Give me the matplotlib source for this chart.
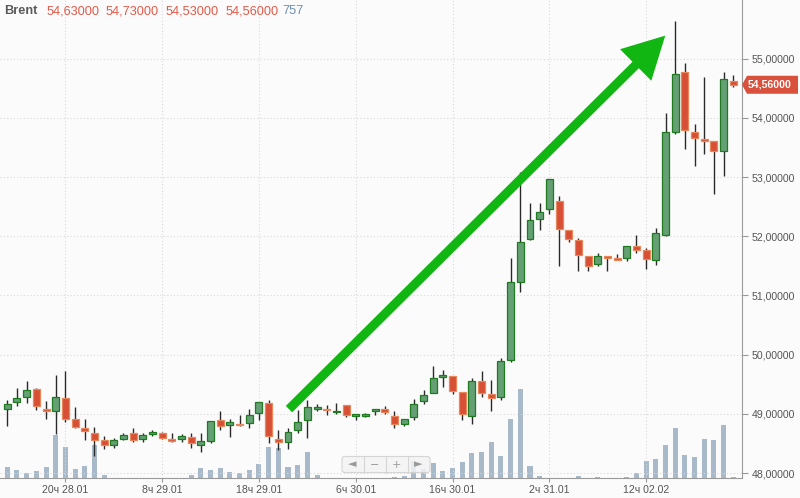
import numpy as np
import matplotlib
matplotlib.use("Agg")
import matplotlib.pyplot as plt
from matplotlib.ticker import MultipleLocator, FixedLocator, FuncFormatter
from matplotlib.patches import Polygon, FancyBboxPatch

plt.rcParams['font.family'] = ['Liberation Sans', 'DejaVu Sans']

# hourly Brent candles (open, high, low, close) and volume
opens = [49.09, 49.20, 49.28, 49.42, 49.09, 49.04, 49.26, 48.92, 48.76, 48.68,
         48.56, 48.47, 48.57, 48.68, 48.57, 48.66, 48.68, 48.57, 48.58, 48.61,
         48.48, 48.54, 48.90, 48.81, 48.83, 48.84, 49.01, 49.18, 48.58, 48.52,
         48.72, 48.89, 49.09, 49.08, 49.03, 49.15, 48.96, 48.96, 49.04, 49.08,
         48.96, 48.82, 48.95, 49.21, 49.36, 49.62, 49.64, 49.37, 48.97, 49.56,
         49.34, 49.28, 49.91, 51.23, 51.95, 52.30, 52.46, 52.60, 52.11, 51.94,
         51.66, 51.53, 51.66, 51.63, 51.63, 51.84, 51.76, 51.60, 52.02, 53.77,
         54.77, 53.76, 53.64, 53.61, 53.44, 54.63]
highs = [49.23, 49.43, 49.56, 49.44, 49.22, 49.65, 49.72, 49.11, 48.91, 48.77,
         48.63, 48.59, 48.67, 48.76, 48.67, 48.72, 48.69, 48.67, 48.66, 48.67,
         48.67, 48.88, 49.04, 48.91, 48.98, 49.08, 49.20, 49.23, 48.72, 48.76,
         49.07, 49.23, 49.17, 49.15, 49.18, 49.15, 48.99, 49.02, 49.09, 49.13,
         49.04, 48.92, 49.25, 49.41, 49.80, 49.74, 49.64, 49.37, 49.60, 49.72,
         49.57, 49.94, 51.63, 53.08, 52.57, 52.56, 52.96, 52.68, 52.11, 51.97,
         51.66, 51.71, 51.66, 51.70, 51.84, 52.02, 51.80, 52.14, 54.09, 55.63,
         54.93, 53.89, 54.69, 53.61, 54.78, 54.73]
lows = [48.80, 49.14, 49.19, 49.07, 48.92, 48.66, 48.86, 48.76, 48.56, 48.29,
        48.40, 48.42, 48.55, 48.53, 48.53, 48.63, 48.58, 48.53, 48.53, 48.42,
        48.36, 48.50, 48.72, 48.61, 48.80, 48.76, 48.89, 48.50, 48.39, 48.40,
        48.68, 48.60, 49.05, 48.98, 48.99, 48.94, 48.89, 48.94, 48.98, 49.00,
        48.76, 48.80, 48.89, 49.16, 49.35, 49.46, 49.33, 48.89, 48.83, 49.29,
        49.05, 49.23, 49.88, 51.06, 51.94, 52.11, 52.37, 51.50, 51.91, 51.41,
        51.41, 51.49, 51.41, 51.60, 51.59, 51.71, 51.45, 51.52, 52.00, 53.72,
        53.47, 53.18, 53.39, 52.71, 53.02, 54.53]
closes = [49.16, 49.26, 49.41, 49.14, 49.04, 49.28, 48.91, 48.77, 48.71, 48.56,
          48.47, 48.55, 48.65, 48.56, 48.64, 48.69, 48.60, 48.54, 48.63, 48.50,
          48.54, 48.88, 48.80, 48.87, 48.81, 48.98, 49.20, 48.63, 48.52, 48.69,
          48.86, 49.11, 49.11, 49.06, 49.05, 48.98, 48.99, 48.99, 49.08, 49.03,
          48.82, 48.92, 49.17, 49.32, 49.60, 49.65, 49.38, 48.99, 49.56, 49.36,
          49.26, 49.90, 51.22, 51.91, 52.28, 52.41, 52.96, 52.13, 51.95, 51.68,
          51.50, 51.67, 51.63, 51.60, 51.83, 51.77, 51.62, 52.05, 53.77, 54.75,
          53.80, 53.66, 53.61, 53.44, 54.65, 54.56]
volumes = [8250, 6200, 3750, 5500, 8250, 32000, 23250, 7000, 9000, 24750,
           2500, 0, 0, 0, 0, 0, 0, 0, 0, 2500,
           7500, 6200, 7700, 4300, 4000, 6200, 10500, 23000, 22500, 8250,
           9750, 19500, 2500, 0, 0, 0, 0, 0, 0, 0,
           750, 1700, 12500, 6750, 11250, 5500, 7500, 12000, 18750, 19500,
           27000, 16500, 44500, 67000, 9000, 1700, 0, 0, 0, 1700,
           0, 750, 0, 0, 750, 3750, 13000, 14250, 24500, 37250,
           17000, 15750, 29250, 28250, 39500, 757]

tick_idx = [6, 16, 26, 36, 46, 56, 66]
tick_labels = ["20ч 28.01", "8ч 29.01", "18ч 29.01", "6ч 30.01",
               "16ч 30.01", "2ч 31.01", "12ч 02.02"]
header_values = ["54,63000", "54,73000", "54,53000", "54,56000"]
header_volume = "757"

W, H = 800, 498
fig = plt.figure(figsize=(W / 100, H / 100), dpi=100)
fig.patch.set_facecolor('#fbfbfb')

ax = fig.add_axes([0, 20 / H, 742 / W, 478 / H])
ax_v = ax.twinx()
ax.set_zorder(ax_v.get_zorder() + 1)
ax.patch.set_visible(False)
ax_v.patch.set_facecolor('#fbfbfb')

x = np.arange(len(opens))
o = np.array(opens)
c = np.array(closes)
up = c >= o

# volume bars behind the candles
ax_v.bar(x, volumes, width=0.52, color='#a8b9c9', linewidth=0)
ax_v.set_ylim(0, 478 * 750)
ax_v.set_yticks([])
for s in ax_v.spines.values():
	s.set_visible(False)

# candles
ax.vlines(x, lows, highs, color='#2a2a2a', linewidth=1, zorder=2)
body_bottom = np.minimum(o, c)
body_height = np.maximum(np.abs(c - o), 0.012)
ax.bar(x[up], body_height[up], bottom=body_bottom[up], width=0.72,
       color='#64a074', edgecolor='#1f7a22', linewidth=0.9, zorder=3)
ax.bar(x[~up], body_height[~up], bottom=body_bottom[~up], width=0.72,
       color='#d74f34', edgecolor='#e8865c', linewidth=0.9, zorder=3)

ax.set_xlim(-0.754, 75.9)
ax.set_ylim(47.916, 55.992)

ax.yaxis.set_major_locator(MultipleLocator(1))
ax.yaxis.set_major_formatter(FuncFormatter(lambda v, p: f"{v:.5f}".replace('.', ',')))
ax.xaxis.set_major_locator(FixedLocator(tick_idx))
ax.set_xticklabels(tick_labels)

ax.grid(True, which='major', axis='both', color='#d9d9d9', linestyle=(0, (1, 2)), linewidth=0.8)
ax.tick_params(axis='y', left=False, labelleft=False, right=True, labelright=True,
               length=4, color='#999999', labelcolor='#555555', labelsize=7.6, pad=3)
ax.tick_params(axis='x', length=3, color='#999999', labelcolor='#555555', labelsize=7.6, pad=2)
for side in ['left', 'top']:
	ax.spines[side].set_visible(False)
for side in ['right', 'bottom']:
	ax.spines[side].set_color('#9a9a9a')

# big green arrow
ax.annotate('', xy=(67.97, 55.39), xytext=(29.1, 49.08),
            arrowprops=dict(width=6.5, headwidth=32, headlength=30, shrink=0,
                            facecolor='#12b612', edgecolor='none'),
            zorder=5)

# header line
fig.text(4 / W, 1 - 11 / H, "Brent", fontsize=9.2, fontweight='bold', color='#5a5a5a', va='center')
for xp, txt in zip([46.7, 106, 166, 226], header_values):
	fig.text(xp / W, 1 - 11 / H, txt, fontsize=9.2, color='#e05a4a', va='center')
fig.text(282.7 / W, 1 - 11 / H, header_volume, fontsize=9.2, color='#6f8fb0', va='center')

# last price label
fig.canvas.draw()
yl = ax.transData.transform((0, closes[-1]))[1]
pts = [(742, yl), (747, yl + 9), (798, yl + 9), (798, yl - 9), (747, yl - 9)]
fig.add_artist(Polygon([(px / W, py / H) for px, py in pts], closed=True,
                       transform=fig.transFigure, facecolor='#d9503c', edgecolor='none', zorder=6))
fig.text(770 / W, yl / H, header_values[-1], color='white', fontweight='bold',
         fontsize=7.6, ha='center', va='center', zorder=7)

# navigation buttons
nav = FancyBboxPatch((342 / W, 25.5 / H), 88 / W, 16 / H,
                     boxstyle='round,pad=0,rounding_size=0.004', transform=fig.transFigure,
                     facecolor='#f3f3f3', edgecolor='#cfcfcf', linewidth=0.8, alpha=0.85, zorder=6)
fig.add_artist(nav)
for xd in [363.5, 385.5, 407.5]:
	fig.add_artist(plt.Line2D([xd / W, xd / W], [25.5 / H, 41.5 / H], transform=fig.transFigure,
	                          color='#d5d5d5', linewidth=0.8, zorder=7))
for xp, g in zip([352.5, 374.5, 396.5, 418.5], ['◄', '−', '+', '►']):
	fig.text(xp / W, 33.5 / H, g, color='#9a9a9a', fontsize=8, ha='center', va='center', zorder=8,
	         family=['DejaVu Sans'])

fig.savefig('out.png', dpi=100, facecolor=fig.get_facecolor())
